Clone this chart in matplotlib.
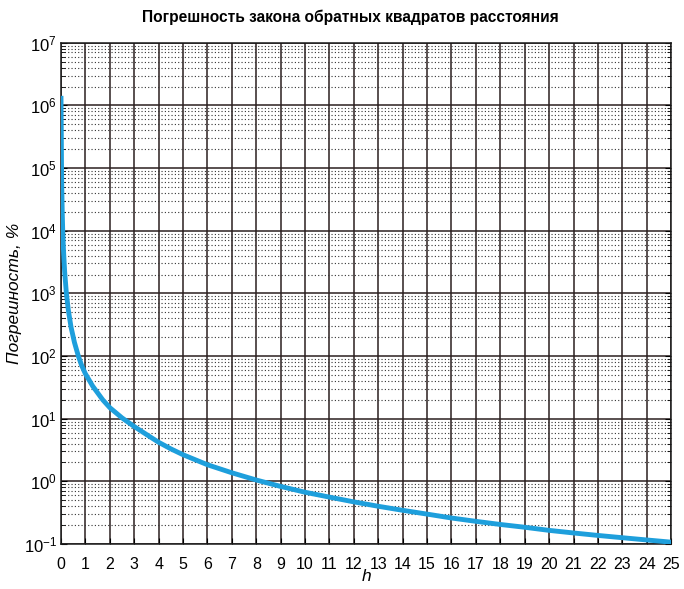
import matplotlib
matplotlib.use("Agg")
import matplotlib.pyplot as plt
from matplotlib.ticker import LogLocator, MultipleLocator, NullFormatter

plt.rcParams["font.family"] = ["Liberation Sans", "DejaVu Sans"]
plt.rcParams["mathtext.fontset"] = "custom"
plt.rcParams["mathtext.rm"] = "Liberation Sans"
plt.rcParams["mathtext.it"] = "Liberation Sans:italic"

# -----------------------------
# Data
# -----------------------------
h_values = [0, 0.01, 0.02, 0.03, 0.05, 0.07, 0.1, 0.15, 0.22, 0.3, 0.41, 0.55, 0.71, 0.85,
            1.0, 1.3, 1.71, 2, 2.5, 3, 3.5, 4, 4.5, 5, 6, 7, 8, 9, 10,
            11, 12, 13, 14, 15, 16, 17, 18, 19, 20, 21, 22, 23, 24, 25]
error_pct = [1.3e6, 4.5e5, 1.2e5, 5.5e4, 2e4, 1e4, 5000, 2200, 1000, 540, 290, 165, 100, 70,
             52, 33, 20, 15, 10.3, 7.5, 5.6, 4.2, 3.3, 2.66, 1.84, 1.37, 1.05, 0.83, 0.67,
             0.56, 0.47, 0.40, 0.345, 0.30, 0.26, 0.23, 0.205, 0.185, 0.165, 0.15, 0.137, 0.126, 0.116, 0.107]

title = "Погрешность закона обратных квадратов расстояния"
x_label = "h"
y_label = "Погрешность, %"

fig = plt.figure(figsize=(6.84, 5.89), dpi=100)
ax = fig.add_axes([0.0892, 0.0764, 0.892, 0.851])

ax.plot(h_values, error_pct, color="#1e9fdc", lw=3.5, solid_joinstyle="round", zorder=3)

ax.set_yscale("log")
ax.set_xlim(0, 25)
ax.set_ylim(1e-1, 1e7)
ax.xaxis.set_major_locator(MultipleLocator(1))
ax.yaxis.set_major_locator(LogLocator(base=10, numticks=20))
ax.yaxis.set_minor_locator(LogLocator(base=10, subs=range(2, 10), numticks=20))
ax.yaxis.set_minor_formatter(NullFormatter())

# сетка
ax.grid(which="major", axis="both", color="#2b1f1f", lw=1.1, ls="-")
ax.grid(which="minor", axis="y", color="#333333", lw=0.8, ls=(0, (1, 2)))
ax.set_axisbelow(True)

ax.tick_params(which="both", direction="in", right=True, top=False)
ax.tick_params(axis="x", labelsize=11.5, pad=9)
ax.tick_params(axis="y", labelsize=12, pad=3)
ax.tick_params(which="major", length=4)
ax.tick_params(which="minor", length=3)
for s in ax.spines.values():
    s.set_linewidth(1.1)
    s.set_color("#1a1a1a")

ax.set_xlabel(x_label, fontsize=12.5, style="italic", labelpad=-2)
ax.set_ylabel(y_label, fontsize=12.5, style="italic", labelpad=1)
fig.text(0.512, 0.970, title, fontsize=11.2, fontweight="bold", ha="center", va="center")

fig.savefig("out.png", dpi=100)
